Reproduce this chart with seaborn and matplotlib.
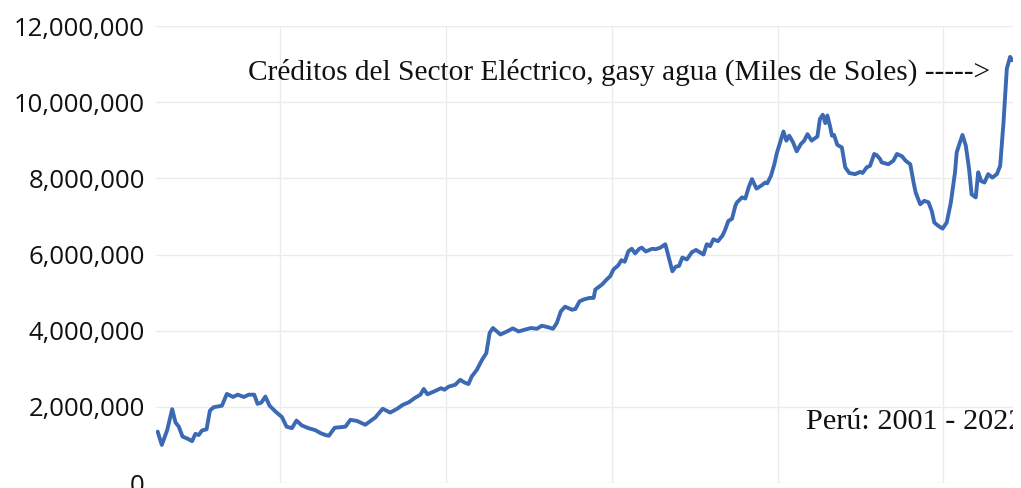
import matplotlib
matplotlib.use("Agg")
import matplotlib.pyplot as plt
import matplotlib.ticker as mticker
import seaborn as sns
import pandas as pd

# Créditos del sector eléctrico, gas y agua (miles de soles), Perú 2001 - 2022
years = [
    2001.04, 2001.14, 2001.27, 2001.39, 2001.47, 2001.55, 2001.64, 2001.75, 2001.87, 2001.95,
    2002.03, 2002.11, 2002.22, 2002.30, 2002.39, 2002.59, 2002.71, 2002.86, 2002.97, 2003.12,
    2003.24, 2003.37, 2003.45, 2003.54, 2003.64, 2003.74, 2003.88, 2004.04, 2004.15, 2004.28,
    2004.39, 2004.52, 2004.68, 2004.84, 2004.97, 2005.09, 2005.17, 2005.31, 2005.57, 2005.69,
    2005.85, 2006.05, 2006.29, 2006.47, 2006.65, 2006.82, 2006.95, 2007.10, 2007.24, 2007.38,
    2007.46, 2007.55, 2007.70, 2007.88, 2007.96, 2008.06, 2008.22, 2008.34, 2008.44, 2008.54,
    2008.62, 2008.74, 2008.87, 2008.97, 2009.05, 2009.13, 2009.31, 2009.47, 2009.61, 2009.75,
    2009.91, 2010.05, 2010.19, 2010.31, 2010.43, 2010.58, 2010.67, 2010.77, 2010.87, 2011.04,
    2011.12, 2011.22, 2011.32, 2011.46, 2011.56, 2011.60, 2011.76, 2011.88, 2011.96, 2012.04,
    2012.15, 2012.23, 2012.31, 2012.40, 2012.48, 2012.56, 2012.66, 2012.72, 2012.82, 2012.97,
    2013.06, 2013.17, 2013.29, 2013.46, 2013.54, 2013.62, 2013.70, 2013.81, 2013.93, 2014.03,
    2014.21, 2014.29, 2014.37, 2014.45, 2014.56, 2014.67, 2014.73, 2014.81, 2014.90, 2014.98,
    2015.02, 2015.14, 2015.22, 2015.30, 2015.38, 2015.49, 2015.62, 2015.70, 2015.75, 2015.84,
    2015.92, 2015.98, 2016.06, 2016.14, 2016.21, 2016.28, 2016.37, 2016.46, 2016.56, 2016.64,
    2016.72, 2016.82, 2016.96, 2017.02, 2017.09, 2017.15, 2017.20, 2017.27, 2017.31, 2017.36,
    2017.44, 2017.55, 2017.63, 2017.73, 2017.87, 2017.99, 2018.05, 2018.15, 2018.23, 2018.33,
    2018.39, 2018.47, 2018.51, 2018.67, 2018.79, 2018.88, 2019.00, 2019.09, 2019.20, 2019.28,
    2019.33, 2019.44, 2019.54, 2019.64, 2019.72, 2019.78, 2019.88, 2019.98, 2020.08, 2020.18,
    2020.28, 2020.32, 2020.40, 2020.46, 2020.54, 2020.62, 2020.68, 2020.78, 2020.84, 2020.91,
    2020.99, 2021.08, 2021.18, 2021.29, 2021.37, 2021.45, 2021.53, 2021.61, 2021.66,
]
credit_millions = [
    1.35, 1.00, 1.39, 1.94, 1.59, 1.48, 1.22, 1.17, 1.10, 1.29,
    1.26, 1.38, 1.41, 1.90, 1.99, 2.03, 2.34, 2.26, 2.32, 2.26,
    2.32, 2.32, 2.08, 2.11, 2.27, 2.03, 1.88, 1.73, 1.48, 1.44,
    1.64, 1.51, 1.44, 1.39, 1.31, 1.26, 1.24, 1.45, 1.48, 1.66,
    1.63, 1.53, 1.72, 1.95, 1.85, 1.95, 2.05, 2.12, 2.23, 2.32,
    2.47, 2.33, 2.40, 2.49, 2.45, 2.53, 2.58, 2.71, 2.64, 2.60,
    2.80, 2.97, 3.24, 3.41, 3.94, 4.07, 3.90, 3.98, 4.06, 3.98,
    4.03, 4.07, 4.05, 4.13, 4.10, 4.05, 4.20, 4.51, 4.63, 4.55,
    4.57, 4.77, 4.82, 4.86, 4.86, 5.08, 5.21, 5.35, 5.43, 5.61,
    5.71, 5.85, 5.81, 6.09, 6.15, 6.03, 6.15, 6.18, 6.08, 6.15,
    6.14, 6.18, 6.27, 5.56, 5.68, 5.70, 5.92, 5.87, 6.06, 6.12,
    6.00, 6.27, 6.22, 6.40, 6.35, 6.50, 6.64, 6.88, 6.94, 7.28,
    7.37, 7.50, 7.47, 7.76, 7.98, 7.73, 7.82, 7.89, 7.87, 8.07,
    8.37, 8.66, 8.95, 9.23, 8.99, 9.12, 8.95, 8.71, 8.90, 8.99,
    9.16, 8.99, 9.10, 9.56, 9.67, 9.45, 9.65, 9.34, 9.12, 9.14,
    8.88, 8.81, 8.29, 8.14, 8.11, 8.17, 8.14, 8.29, 8.33, 8.64,
    8.61, 8.51, 8.42, 8.37, 8.46, 8.64, 8.58, 8.46, 8.37, 7.89,
    7.63, 7.32, 7.41, 7.37, 7.14, 6.84, 6.75, 6.68, 6.84, 7.37,
    8.16, 8.68, 8.95, 9.14, 8.86, 8.24, 7.58, 7.50, 8.16, 7.93,
    7.89, 8.11, 8.02, 8.11, 8.33, 9.47, 10.88, 11.19, 11.10,
]
y_ticks = [0, 2_000_000, 4_000_000, 6_000_000, 8_000_000, 10_000_000, 12_000_000]
x_grid = [2004, 2008, 2012, 2016, 2020]

df = pd.DataFrame({"year": years, "credit": [v * 1e6 for v in credit_millions]})

sns.set_theme(style="whitegrid")
plt.rcParams["font.family"] = ["Open Sans", "DejaVu Sans"]

fig = plt.figure(figsize=(10.21, 4.88), dpi=100)
ax = fig.add_axes([0.1528, 0.0102, 0.8394, 0.9365])

sns.lineplot(data=df, x="year", y="credit", color="#3b69b4", linewidth=2.8, ax=ax)

ax.set_xlim(2001.0, 2021.68)
ax.set_ylim(0, 12_000_000)
ax.set_xticks(x_grid)
ax.set_xticklabels([])
ax.set_yticks(y_ticks)
ax.yaxis.set_major_formatter(mticker.FuncFormatter(lambda v, p: f"{int(v):,}"))
ax.tick_params(axis="y", labelsize=18.5, colors="#111111", pad=8, length=0)
ax.tick_params(axis="x", length=0)
ax.grid(True, color="#ebebeb", linewidth=1.0)
ax.set_xlabel("")
ax.set_ylabel("")
for s in ax.spines.values():
    s.set_visible(False)

ax.text(0.107, 0.882, "Créditos del Sector Eléctrico, gasy agua (Miles de Soles) ----->",
        transform=ax.transAxes, family="Liberation Serif", fontsize=21.2,
        color="#111111", va="baseline", ha="left")
ax.text(0.758, 0.118, "Perú: 2001 - 2022",
        transform=ax.transAxes, family="Liberation Serif", fontsize=21.8,
        color="#111111", va="baseline", ha="left", clip_on=True)

fig.savefig("out.png", dpi=100)
